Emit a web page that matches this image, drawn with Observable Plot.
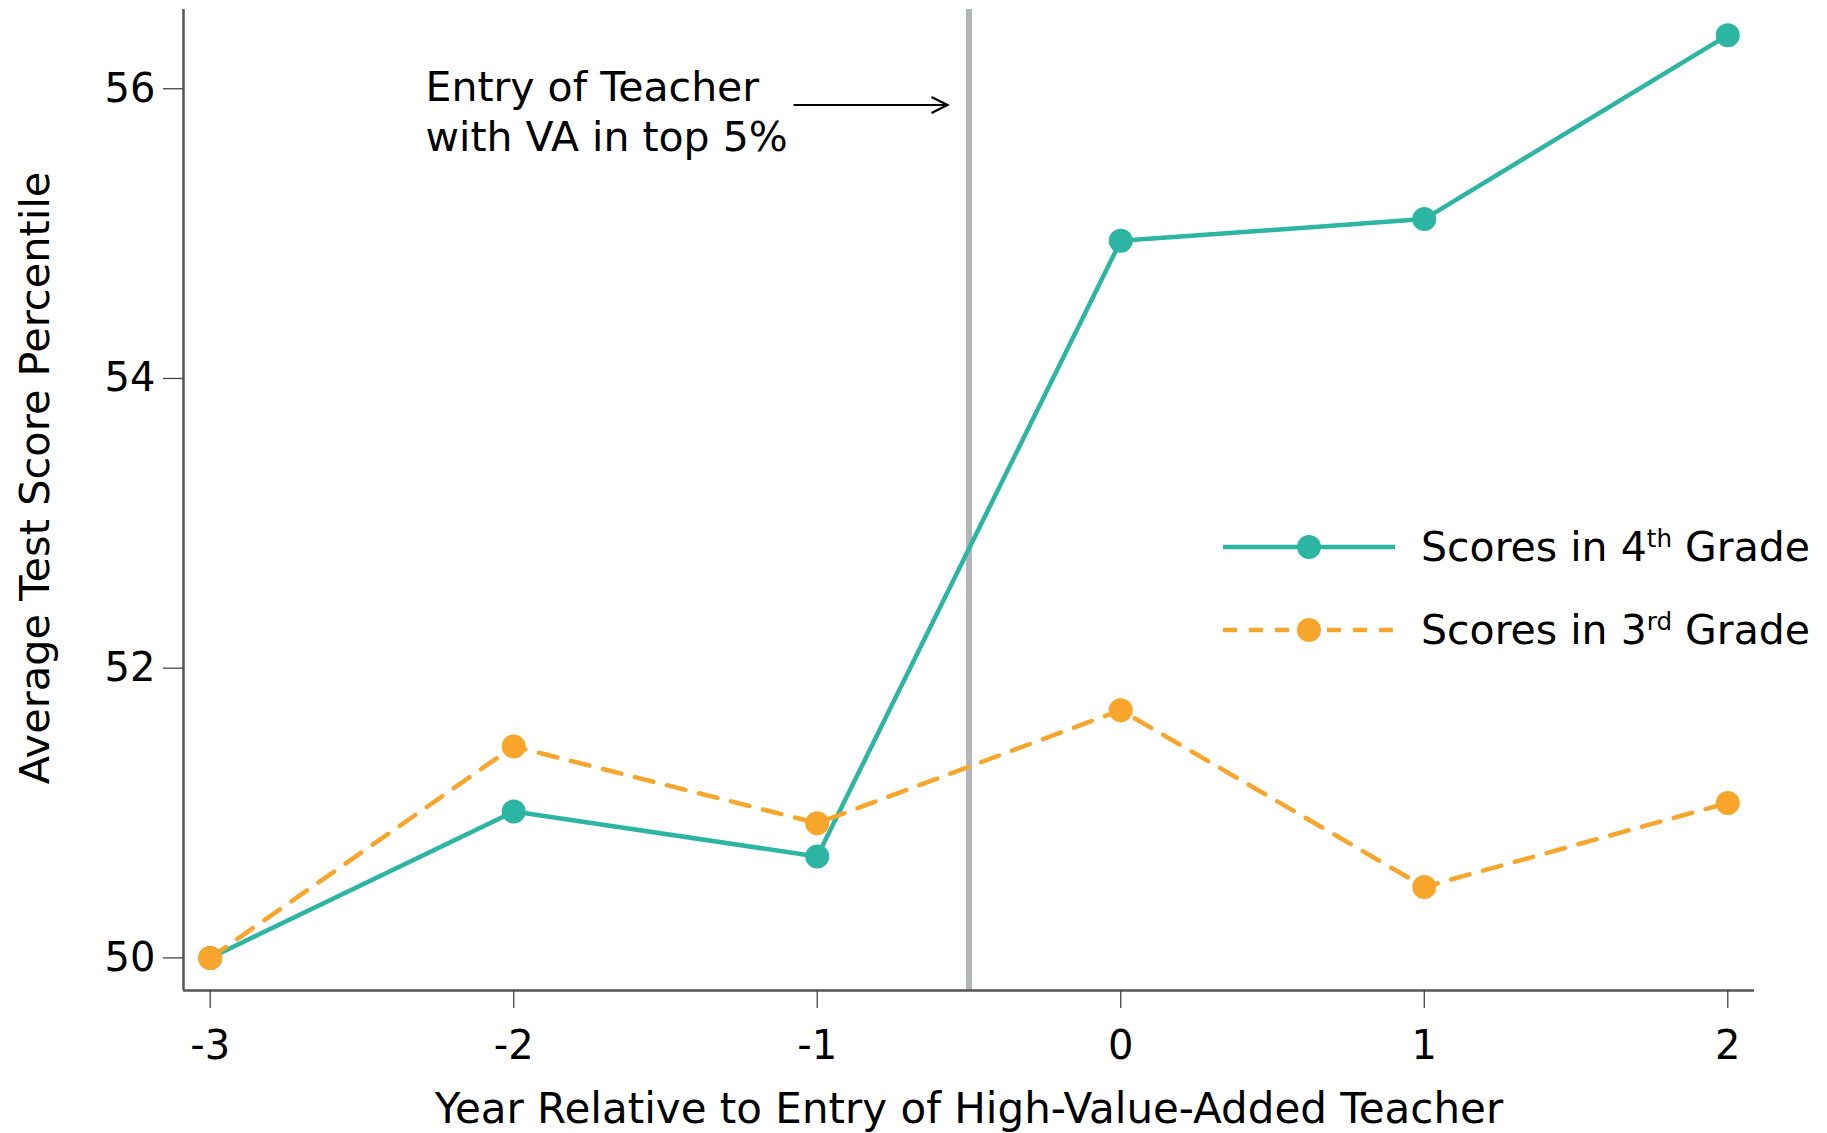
<!DOCTYPE html>
<html>
<head>
<meta charset="utf-8">
<script src="https://cdn.jsdelivr.net/npm/d3@7"></script>
<script src="https://cdn.jsdelivr.net/npm/@observablehq/plot@0.6"></script>
<style>
  html, body { margin: 0; padding: 0; background: #fff; }
  #wrap { position: relative; width: 1827px; height: 1133px; font-family: "DejaVu Sans", sans-serif; }
  #legend { position: absolute; left: 1223px; top: 505px; font-size: 41px; color: #000; white-space: nowrap; }
  .row { display: flex; align-items: center; height: 83px; }
  .row svg { margin-right: 26px; flex: none; }
  sup { font-size: 0.6em; vertical-align: 0.55em; line-height: 0; }
  #note { position: absolute; font-size: 41px; line-height: 50px; color: #000; white-space: nowrap; }
</style>
</head>
<body>
<div id="wrap"></div>
<script>
// ---- data ----
const years = [-3, -2, -1, 0, 1, 2];
const grade4 = [50.0, 51.01, 50.70, 54.95, 55.10, 56.37];
const grade3 = [50.0, 51.46, 50.93, 51.71, 50.49, 51.07];
const yTicks = [50, 52, 54, 56];
const xTicks = [-3, -2, -1, 0, 1, 2];
const entryYear = [-0.5];
const seriesNames = ["Scores in 4th Grade", "Scores in 3rd Grade"];
const xTitle = "Year Relative to Entry of High-Value-Added Teacher";
const yTitle = "Average Test Score Percentile";
const noteLines = ["Entry of Teacher", "with VA in top 5%"];

const teal = "#2bb5a2";
const orange = "#f8a62b";

const g4 = years.map((x, i) => ({x, y: grade4[i]}));
const g3 = years.map((x, i) => ({x, y: grade3[i]}));

const xDomain = [-3.088, 2.088];
const yDomain = [49.775, 56.547];

const chart = Plot.plot({
  width: 1827,
  height: 1133,
  marginLeft: 183,
  marginRight: 73,
  marginTop: 9,
  marginBottom: 143,
  style: {fontFamily: "DejaVu Sans, sans-serif", background: "#fff", overflow: "visible"},
  x: {domain: xDomain},
  y: {domain: yDomain},
  marks: [
    Plot.ruleX(entryYear, {stroke: "#b3b5b8", strokeWidth: 6}),
    Plot.ruleY([yDomain[0]], {stroke: "#555", strokeWidth: 2.5}),
    Plot.ruleX([xDomain[0]], {stroke: "#555", strokeWidth: 2.5}),
    Plot.axisY({ticks: yTicks, tickSize: 20, tickPadding: 8, fontSize: 40, label: null, stroke: "#444", strokeWidth: 1.3, tickFormat: d => d, fill: "#000"}),
    Plot.axisX({ticks: xTicks, tickSize: 18, tickPadding: 22, fontSize: 40, label: null, stroke: "#444", strokeWidth: 1.3, tickFormat: d => String(d), fill: "#000"}),
    Plot.text([xTitle], {frameAnchor: "bottom", dy: 132, fontSize: 42, fill: "#000", text: d => d}),
    Plot.text([yTitle], {frameAnchor: "left", textAnchor: "middle", dx: -148, dy: -22, rotate: -90, fontSize: 41.5, fill: "#000", text: d => d}),
    Plot.line(g4, {x: "x", y: "y", stroke: teal, strokeWidth: 4.5}),
    Plot.line(g3, {x: "x", y: "y", stroke: orange, strokeWidth: 4.5, strokeDasharray: "19,14"}),
    Plot.dot(g4, {x: "x", y: "y", r: 12, fill: teal}),
    Plot.dot(g3, {x: "x", y: "y", r: 12, fill: orange})
  ]
});

const wrap = document.getElementById("wrap");
wrap.appendChild(chart);

// arrow annotation next to the entry rule
const xs = chart.scale("x");
const ruleX = xs.apply(entryYear[0]);
const svg = d3.select(chart);
const defs = svg.append("defs");
defs.append("marker").attr("id", "arrowhead").attr("viewBox", "0 0 20 20").attr("refX", 18).attr("refY", 10)
  .attr("markerWidth", 20).attr("markerHeight", 20).attr("markerUnits", "userSpaceOnUse").attr("orient", "auto")
  .append("path").attr("d", "M2,2 L18,10 L2,18").attr("fill", "none").attr("stroke", "#000").attr("stroke-width", 2.2);
svg.append("line").attr("x1", ruleX - 175).attr("x2", ruleX - 21).attr("y1", 105).attr("y2", 105)
  .attr("stroke", "#000").attr("stroke-width", 2.2).attr("marker-end", "url(#arrowhead)");

const note = document.createElement("div");
note.id = "note";
note.style.left = (ruleX - 543) + "px";
note.style.top = "62px";
note.innerHTML = noteLines.join("<br>");
wrap.appendChild(note);

// legend
const legend = document.createElement("div");
legend.id = "legend";
const styles = [{c: teal, dash: null}, {c: orange, dash: "14,12"}];
legend.innerHTML = seriesNames.map((name, i) => {
  const s = styles[i];
  const label = name.replace(/(\d)(th|rd)/, "$1<sup>$2</sup>");
  return `<div class="row"><svg width="172" height="30"><line x1="0" x2="172" y1="15" y2="15" stroke="${s.c}" stroke-width="4.5" ${s.dash ? `stroke-dasharray="${s.dash}"` : ""}/><circle cx="86" cy="15" r="12" fill="${s.c}"/></svg><span>${label}</span></div>`;
}).join("");
wrap.appendChild(legend);
</script>
</body>
</html>
